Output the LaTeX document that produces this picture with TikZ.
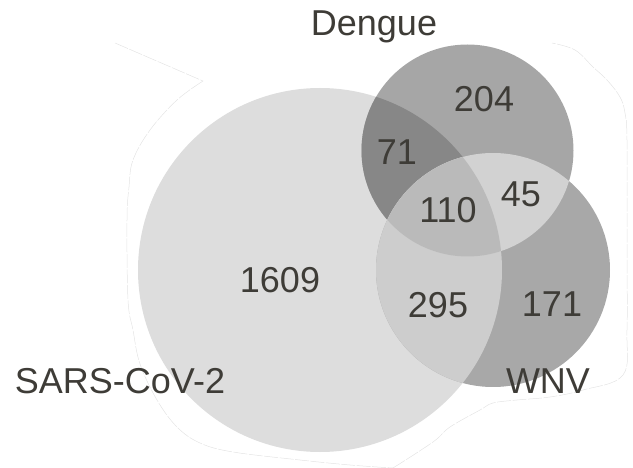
\documentclass[tikz,border=0pt]{standalone}
\usepackage{fontspec}
\setmainfont{Liberation Sans}
\usetikzlibrary{positioning}

\definecolor{txtgray}{RGB}{62,60,55}
\definecolor{sarsfill}{RGB}{221,221,221}
\definecolor{dengfill}{RGB}{166,166,166}
\definecolor{wnvfill}{RGB}{168,168,168}
\definecolor{sdfill}{RGB}{135,135,135}
\definecolor{swfill}{RGB}{205,205,205}
\definecolor{dwfill}{RGB}{210,210,210}
\definecolor{allfill}{RGB}{186,186,186}
\definecolor{rimgray}{RGB}{228,228,228}

\tikzset{
  lbl/.style={anchor=base, inner sep=0pt, text=txtgray, font=\fontsize{36}{36}\selectfont},
  rim/.style={draw=rimgray, line width=0.5pt, dash pattern=on 14pt off 1.5pt},
}

\def\sarscirc{(320,270) circle[radius=182pt]}
\def\dengcirc{(467.5,150.5) circle[radius=106pt]}
\def\wnvcirc{(493,270) circle[radius=117pt]}

\begin{document}
\begin{tikzpicture}[x=1pt,y=-1pt]
\useasboundingbox (0,0) rectangle (633,468);

\draw[rim] (115,43) -- (203,81);
\draw[rim] plot[smooth, tension=0.6] coordinates {(203,81) (177,100) (150,130) (133,160) (129,187) (127,220) (128,300) (133,330) (140,364) (157,400) (177,427) (200,443) (233,452) (300,460) (350,465) (393,468)};
\draw[rim] plot[smooth, tension=0.6] coordinates {(393,468) (433,442) (450,427) (480,410) (493,403) (517,400) (550,397) (583,390) (623,375) (627,330) (627,250) (627,140) (625,113) (620,97) (607,80) (593,67) (575,50) (552,43)};

\fill[sarsfill] \sarscirc;
\fill[dengfill] \dengcirc;
\fill[wnvfill] \wnvcirc;

\begin{scope}
\clip \sarscirc;
\fill[sdfill] \dengcirc;
\fill[swfill] \wnvcirc;
\end{scope}

\begin{scope}
\clip \dengcirc;
\fill[dwfill] \wnvcirc;
\end{scope}

\begin{scope}
\clip \sarscirc;
\clip \dengcirc;
\fill[allfill] \wnvcirc;
\end{scope}

\node[lbl] at (374,36)  (dengue) {Dengue};
\node[lbl] at (120,393) (sars)   {SARS-CoV-2};
\node[lbl] at (548,394) (wnv)    {WNV};

\node[lbl] at (484,112) (nD)   {204};
\node[lbl] at (397,165) (nSD)  {71};
\node[lbl] at (448,223) (nSDW) {110};
\node[lbl] at (521,207) (nDW)  {45};
\node[lbl] at (280,293) (nS)   {1609};
\node[lbl] at (438,318) (nSW)  {295};
\node[lbl] at (552,317) (nW)   {171};

\end{tikzpicture}
\end{document}
